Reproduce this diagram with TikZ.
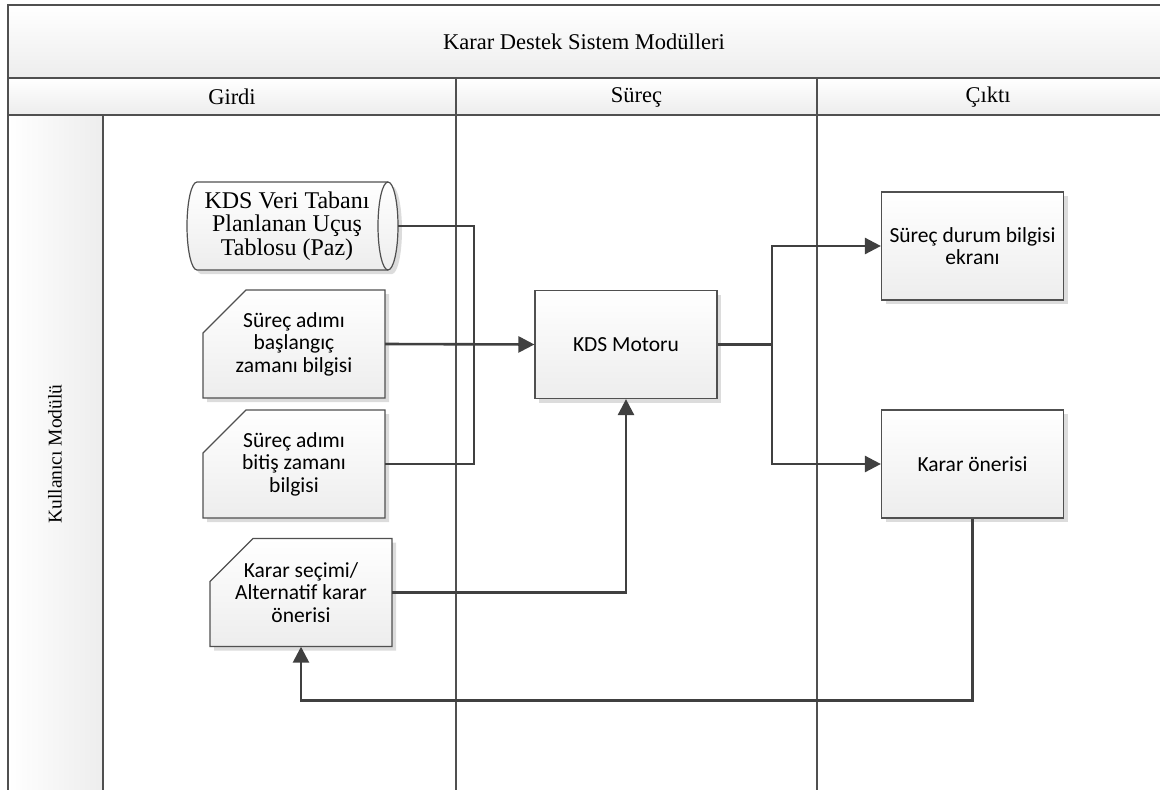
\documentclass[tikz,border=0pt]{standalone}
\usepackage{fontspec}
\setmainfont{Liberation Serif}
\newfontfamily\calib{Carlito}
\usetikzlibrary{arrows.meta,shadows}
\definecolor{linec}{HTML}{505050}
\definecolor{connc}{HTML}{404040}
\definecolor{shadc}{HTML}{DCDCDC}
\definecolor{gradb}{HTML}{EDEDED}
\newcommand\maninput[4]{%
  \begin{scope}[shift={(#2,#3)}]
    \fill[shadc] (-87,58) -- (95,58) -- (95,-50) -- (-44,-50) -- (-87,-7) -- cycle;
    \path[boxshape] (-91,54) -- (91,54) -- (91,-54) -- (-48,-54) -- (-91,-11) -- cycle;
  \end{scope}
  \node[boxtext] (#1) at (#2,#3) {#4};}
\begin{document}
\begin{tikzpicture}[x=1pt,y=-1pt,
  frame/.style={draw=linec, line width=2pt},
  hdr/.style={font=\fontsize{22.5}{26}\selectfont, inner sep=0pt},
  boxtext/.style={font=\calib\fontsize{21.5}{22.5}\selectfont, align=center, inner sep=0pt, minimum width=182pt, minimum height=108pt},
  boxshape/.style={draw=linec, line width=1.2pt, top color=white, bottom color=gradb},
  boxshad/.style={drop shadow={shadow xshift=4pt, shadow yshift=-4pt, fill=shadc, opacity=1}},
  conn/.style={draw=connc, line width=2.6pt},
  arr/.style={conn, -{Triangle[length=16pt,width=16pt]}},
]
\useasboundingbox (0,0) rectangle (1160,790);
% frame
\shade[top color=white, bottom color=gradb] (8,5) rectangle (1160,78);
\shade[top color=white, bottom color=gradb] (8,78) rectangle (1160,115);
\shade[left color=white, right color=gradb] (8,115) rectangle (103,790);
\draw[frame] (1160,5) -- (8,5) -- (8,790);
\draw[frame] (8,78) -- (1160,78);
\draw[frame] (8,115) -- (1160,115);
\draw[frame] (103,115) -- (103,790);
\draw[frame] (456,78) -- (456,790);
\draw[frame] (817,78) -- (817,790);
\node[hdr] (title) at (584,42) {Karar Destek Sistem Modülleri};
\node[hdr] (girdi) at (232,97) {Girdi};
\node[hdr] (surec) at (636.5,97) {Süreç};
\node[hdr] (cikti) at (988,97) {Çıktı};
\node[hdr, font=\fontsize{19.5}{22}\selectfont, rotate=90] (lane) at (55,454) {Kullanıcı Modülü};
% cylinder
\fill[shadc] (201,186) -- (392,186) arc (90:-90:10pt and 44pt) -- (201,274) arc (270:90:10pt and 44pt) -- cycle;
\path[boxshape] (197,182) -- (388,182) arc (90:-90:10pt and 44pt) -- (197,270) arc (270:90:10pt and 44pt) -- cycle;
\draw[draw=linec, line width=1.2pt] (388,182) arc (90:270:10pt and 44pt);
\node[font=\fontsize{24}{23.5}\selectfont, align=center, inner sep=0pt, minimum width=222pt, minimum height=88pt] (cyl) at (287,226) {KDS Veri Tabanı\\Planlanan Uçuş\\Tablosu (Paz)};
% manual inputs
\maninput{m1}{294}{344}{Süreç adımı\\başlangıç\\zamanı bilgisi}
\maninput{m2}{294}{464}{Süreç adımı\\bitiş zamanı\\bilgisi}
\maninput{m3}{301}{592.5}{Karar seçimi/\\Alternatif karar\\önerisi}
% process boxes
\node[boxtext, boxshape, boxshad] (kds) at (626,344.5) {KDS Motoru};
\node[boxtext, boxshape, boxshad] (sd) at (972.5,246) {Süreç durum bilgisi\\ekranı};
\node[boxtext, boxshape, boxshad] (ko) at (972.5,464) {Karar önerisi};
% connectors
\coordinate (bus) at (474,0);
\coordinate (split) at (772,344.5);
\draw[conn] (cyl.east) -| (bus |- m2.east) -- (m2.east);
\draw[arr] (m1.east) -- (kds.west);
\draw[arr] (m3.east) -| (kds.south);
\draw[conn] (kds.east) -- (split);
\draw[arr] (split) |- (sd.west);
\draw[arr] (split) |- (ko.west);
\draw[arr] (ko.south) -- ++(0,182) -| (m3.south);
\end{tikzpicture}
\end{document}
